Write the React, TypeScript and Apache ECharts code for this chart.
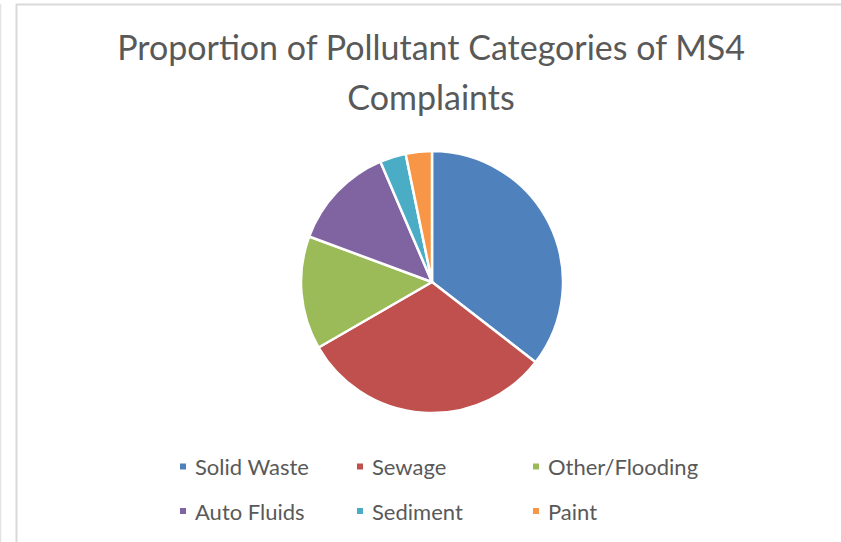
import React, { useEffect, useRef } from "react";
import * as echarts from "echarts";

const categories = ["Solid Waste", "Sewage", "Other/Flooding", "Auto Fluids", "Sediment", "Paint"];
const values = [33, 29, 13, 12, 3, 3];
const colors = ["#4F81BD", "#C0504D", "#9BBB59", "#8064A2", "#4BACC6", "#F79646"];
const titleText = "Proportion of Pollutant Categories of MS4\nComplaints";

const FONT = "Lato, 'Open Sans', sans-serif";
const legendPos = [
  [178, 454.5],
  [355, 454.5],
  [531, 454.5],
  [178, 499],
  [355, 499],
  [531, 499],
];

export default function App() {
  const ref = useRef<HTMLDivElement>(null);
  useEffect(() => {
    if (!ref.current) return;
    const chart = echarts.init(ref.current, null, { renderer: "svg" });
    const option: any = {
      animation: false,
      backgroundColor: "#ffffff",
      color: colors,
      title: {
        text: titleText,
        left: 431,
        top: 21,
        padding: 0,
        textAlign: "center",
        textStyle: {
          fontFamily: FONT,
          fontSize: 34,
          fontWeight: "normal",
          color: "#595959",
          lineHeight: 50,
        },
      },
      legend: categories.map((name, i) => ({
        data: [name],
        left: legendPos[i][0],
        top: legendPos[i][1],
        padding: 0,
        icon: "rect",
        itemWidth: 8,
        itemHeight: 8,
        selectedMode: false,
        textStyle: {
          fontFamily: FONT,
          fontSize: 22,
          color: "#595959",
          lineHeight: 24,
          padding: [0, 0, 0, 3],
        },
      })),
      graphic: [
        {
          type: "polyline",
          shape: { points: [[16.5, 542], [16.5, 4.5], [841, 4.5]] },
          style: { stroke: "#d9d9d9", lineWidth: 2, fill: "none" },
          silent: true,
        },
        {
          type: "line",
          shape: { x1: 0.5, y1: 4, x2: 0.5, y2: 542 },
          style: { stroke: "#e3e3e3", lineWidth: 1.5 },
          silent: true,
        },
      ],
      series: [
        {
          type: "pie",
          center: [432, 282],
          radius: 131,
          startAngle: 90,
          clockwise: true,
          label: { show: false },
          labelLine: { show: false },
          emphasis: { disabled: true },
          itemStyle: { borderColor: "#ffffff", borderWidth: 2.5 },
          data: categories.map((name, i) => ({ name, value: values[i] })),
        },
      ],
    };
    chart.setOption(option);
    return () => chart.dispose();
  }, []);
  return (
    <div
      ref={ref}
      style={{ position: "fixed", left: 0, top: 0, width: 841, height: 542 }}
    />
  );
}
